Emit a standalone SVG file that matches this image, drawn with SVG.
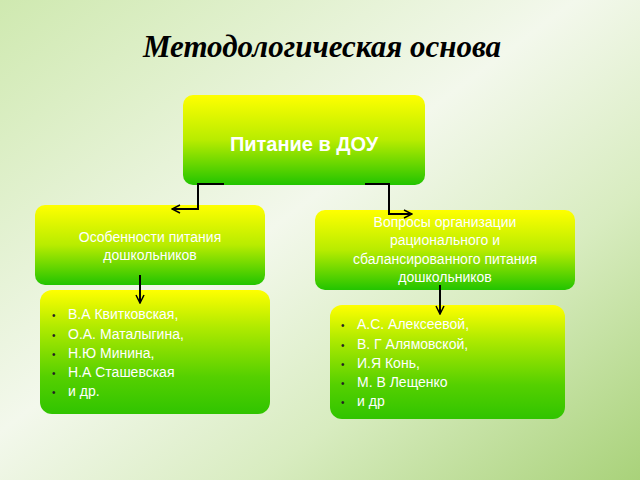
<svg xmlns="http://www.w3.org/2000/svg" width="640" height="480" viewBox="0 0 640 480">
<defs>
<linearGradient id="bg" x1="0" y1="0" x2="1" y2="1"><stop offset="0" stop-color="#cfe9b0"/><stop offset="0.45" stop-color="#f3f8ec"/><stop offset="0.7" stop-color="#d8ecc0"/><stop offset="1" stop-color="#a9d27a"/></linearGradient>
<linearGradient id="g" x1="0" y1="0" x2="0" y2="1"><stop offset="0" stop-color="#ffff00"/><stop offset="0.5" stop-color="#b8ec00"/><stop offset="1" stop-color="#22c400"/></linearGradient>
<linearGradient id="g2" x1="0" y1="0" x2="0" y2="1"><stop offset="0" stop-color="#ffff00"/><stop offset="0.3" stop-color="#b0ea00"/><stop offset="0.7" stop-color="#55d000"/><stop offset="1" stop-color="#30c400"/></linearGradient>
<marker id="a" viewBox="0 0 10 10" refX="9" refY="5" markerWidth="5" markerHeight="5" orient="auto"><path d="M1,1 L9,5 L1,9" fill="none" stroke="#000" stroke-width="1.5"/></marker>
</defs>
<style>
.b{fill:url(#g)}.b2{fill:url(#g2)}
.t{font-family:"Liberation Sans",Arial,sans-serif;fill:#fff;font-size:14px}
.k{font-family:"Liberation Sans",Arial,sans-serif;fill:#222;font-size:10px}
.c{fill:none;stroke:#000;stroke-width:2}
</style>
<rect width="640" height="480" fill="url(#bg)"/>
<text x="322" y="57" text-anchor="middle" font-family="Liberation Serif,serif" font-weight="bold" font-style="italic" font-size="31" fill="#000">Методологическая основа</text>
<g id="n1"><rect class="b" x="183" y="95" width="242" height="90" rx="10"/><text class="t" x="304" y="151" text-anchor="middle" style="font-size:20px;font-weight:bold">Питание в ДОУ</text></g>
<g id="n2"><rect class="b" x="35" y="205" width="230" height="80" rx="10"/><text class="t" x="150" y="242" text-anchor="middle">Особенности питания</text><text class="t" x="150" y="260" text-anchor="middle">дошкольников</text></g>
<g id="n3"><rect class="b" x="315" y="210" width="260" height="80" rx="10"/><text class="t" x="445" y="227" text-anchor="middle">Вопросы организации</text><text class="t" x="445" y="245" text-anchor="middle">рационального и</text><text class="t" x="445" y="264" text-anchor="middle">сбалансированного питания</text><text class="t" x="445" y="282" text-anchor="middle">дошкольников</text></g>
<g id="n4"><rect class="b2" x="40" y="290" width="230" height="124" rx="12"/>
<text class="k" x="52" y="319">•</text><text class="t" x="68" y="319">В.А Квитковская,</text>
<text class="k" x="52" y="339">•</text><text class="t" x="68" y="339">О.А. Маталыгина,</text>
<text class="k" x="52" y="358">•</text><text class="t" x="68" y="358">Н.Ю Минина,</text>
<text class="k" x="52" y="377">•</text><text class="t" x="68" y="377">Н.А Сташевская</text>
<text class="k" x="52" y="396">•</text><text class="t" x="68" y="396">и др.</text></g>
<g id="n5"><rect class="b2" x="330" y="305" width="235" height="114" rx="12"/>
<text class="k" x="341" y="329">•</text><text class="t" x="357" y="329">А.С. Алексеевой,</text>
<text class="k" x="341" y="349">•</text><text class="t" x="357" y="349">В. Г Алямовской,</text>
<text class="k" x="341" y="368">•</text><text class="t" x="357" y="368">И.Я Конь,</text>
<text class="k" x="341" y="387">•</text><text class="t" x="357" y="387">М. В Лещенко</text>
<text class="k" x="341" y="406">•</text><text class="t" x="357" y="406">и др</text></g>
<g id="connectors">
<path class="c" d="M224,184 H198 V209 H172" marker-end="url(#a)"/>
<path class="c" d="M365,184 H389 V214 H412" marker-end="url(#a)"/>
<path class="c" d="M140,275 V303" marker-end="url(#a)"/>
<path class="c" d="M440,285 V314" marker-end="url(#a)"/>
</g>
</svg>
